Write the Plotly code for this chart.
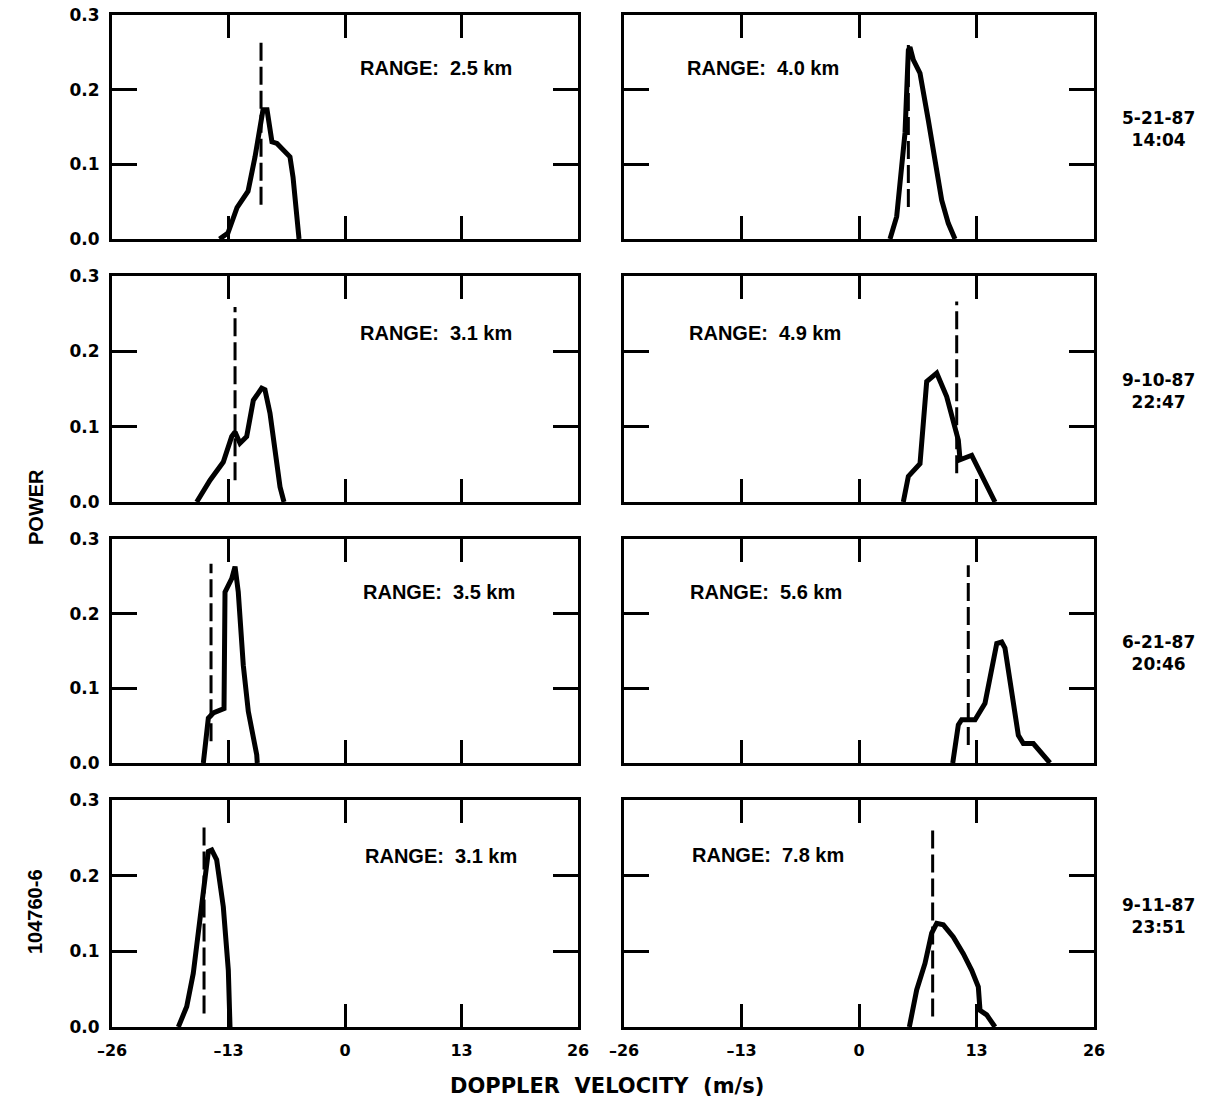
import plotly.graph_objects as go

# ---------------- data ----------------
# Row 1 (5-21-87 14:04)
p1_x = [-14.0, -13.06, -12.05, -10.82, -10.04, -9.71, -9.15, -8.70, -8.15, -7.59, -6.14, -5.80, -5.24, -5.13]
p1_y = [0.0, 0.008, 0.042, 0.064, 0.110, 0.137, 0.173, 0.173, 0.130, 0.128, 0.110, 0.083, 0.012, 0.0]
p1_mean = -9.37
p1_dash = [0.046, 0.266]
p1_range = "RANGE:  2.5 km"

p2_x = [3.43, 4.17, 4.72, 5.09, 5.46, 5.64, 6.01, 6.75, 7.67, 8.60, 9.15, 9.88, 10.62]
p2_y = [0.0, 0.030, 0.097, 0.142, 0.253, 0.257, 0.240, 0.222, 0.159, 0.096, 0.052, 0.021, 0.0]
p2_mean = 5.46
p2_dash = [0.043, 0.266]
p2_range = "RANGE:  4.0 km"

# Row 2 (9-10-87 22:47)
p3_x = [-16.55, -15.06, -13.58, -12.64, -12.27, -11.72, -10.97, -10.23, -9.30, -8.93, -8.37, -7.25, -6.81]
p3_y = [0.0, 0.029, 0.053, 0.087, 0.093, 0.078, 0.087, 0.135, 0.151, 0.149, 0.118, 0.020, 0.0]
p3_mean = -12.27
p3_dash = [0.029, 0.259]
p3_range = "RANGE:  3.1 km"

p4_x = [4.90, 5.46, 6.75, 7.49, 8.60, 9.70, 10.99, 11.18, 12.47, 13.39, 15.05]
p4_y = [0.0, 0.034, 0.051, 0.160, 0.171, 0.140, 0.082, 0.056, 0.062, 0.040, 0.0]
p4_mean = 10.81
p4_dash = [0.038, 0.266]
p4_range = "RANGE:  4.9 km"

# Row 3 (6-21-87 20:46)
p5_x = [-15.81, -15.51, -15.25, -14.70, -13.50, -13.39, -12.64, -12.27, -11.91, -11.35, -10.79, -9.85, -9.79]
p5_y = [0.0, 0.033, 0.060, 0.067, 0.073, 0.229, 0.247, 0.263, 0.229, 0.131, 0.069, 0.011, 0.0]
p5_mean = -14.95
p5_dash = [0.029, 0.267]
p5_range = "RANGE:  3.5 km"

p6_x = [10.37, 10.99, 11.36, 12.84, 13.94, 15.24, 15.79, 16.15, 17.63, 18.18, 19.29, 20.94, 21.13]
p6_y = [0.0, 0.051, 0.058, 0.058, 0.080, 0.160, 0.162, 0.154, 0.037, 0.026, 0.026, 0.004, 0.0]
p6_mean = 12.09
p6_dash = [0.024, 0.265]
p6_range = "RANGE:  5.6 km"

# Row 4 (9-11-87 23:51)
p7_x = [-18.60, -17.66, -16.93, -16.18, -15.51, -15.25, -14.87, -14.32, -13.58, -13.02, -12.83]
p7_y = [0.0, 0.027, 0.071, 0.146, 0.203, 0.232, 0.234, 0.221, 0.159, 0.075, 0.0]
p7_mean = -15.73
p7_dash = [0.018, 0.265]
p7_range = "RANGE:  3.1 km"

p8_x = [5.57, 6.38, 7.30, 8.04, 8.60, 9.33, 10.43, 11.54, 12.47, 13.20, 13.39, 14.13, 15.05]
p8_y = [0.0, 0.049, 0.084, 0.124, 0.137, 0.135, 0.119, 0.097, 0.075, 0.053, 0.022, 0.016, 0.0]
p8_mean = 8.15
p8_dash = [0.014, 0.265]
p8_range = "RANGE:  7.8 km"

dates = ["5-21-87<br>14:04", "9-10-87<br>22:47", "6-21-87<br>20:46", "9-11-87<br>23:51"]

x_tickvals = [-26, -13, 0, 13, 26]
x_ticktext = ["\u201326", "\u201313", "0", "13", "26"]
y_tickvals = [0.0, 0.1, 0.2, 0.3]
y_ticktext = ["0.0", "0.1", "0.2", "0.3"]

panels = [
    (p1_x, p1_y, p1_mean, p1_dash, p1_range),
    (p2_x, p2_y, p2_mean, p2_dash, p2_range),
    (p3_x, p3_y, p3_mean, p3_dash, p3_range),
    (p4_x, p4_y, p4_mean, p4_dash, p4_range),
    (p5_x, p5_y, p5_mean, p5_dash, p5_range),
    (p6_x, p6_y, p6_mean, p6_dash, p6_range),
    (p7_x, p7_y, p7_mean, p7_dash, p7_range),
    (p8_x, p8_y, p8_mean, p8_dash, p8_range),
]

# ---------------- layout geometry (pixels) ----------------
W, H = 1205, 1109
col_px = [(112, 578), (624, 1094)]
row_px = [(15, 239), (276, 502), (539, 763), (800, 1027)]
range_text_px = [(358, 68), (685, 68), (358, 333), (687, 333),
                 (361, 592), (688, 592), (363, 856), (690, 855)]

FONT = "Liberation Sans, Arial, Helvetica, sans-serif"
WIDE = "DejaVu Sans, Verdana, sans-serif"

fig = go.Figure()
layout = dict(
    width=W, height=H,
    margin=dict(l=0, r=0, t=0, b=0, pad=0, autoexpand=False),
    paper_bgcolor="white", plot_bgcolor="white",
    showlegend=False,
    font=dict(family=FONT, color="black"),
    annotations=[],
)

for i, (px, py, mean, dash, rtxt) in enumerate(panels):
    r, c = divmod(i, 2)
    n = i + 1
    xa = "x" if n == 1 else f"x{n}"
    ya = "y" if n == 1 else f"y{n}"
    fig.add_trace(go.Scatter(x=[mean, mean], y=dash, mode="lines",
                             line=dict(color="black", width=3, dash="18px,6px"),
                             xaxis=xa, yaxis=ya, hoverinfo="skip"))
    fig.add_trace(go.Scatter(x=px, y=py, mode="lines",
                             line=dict(color="black", width=5),
                             xaxis=xa, yaxis=ya))
    x0, x1 = col_px[c]
    y0, y1 = row_px[r]
    bottom = (r == 3)
    layout["xaxis" if n == 1 else f"xaxis{n}"] = dict(
        domain=[x0 / W, x1 / W], anchor=ya, range=[-26, 26], automargin=False,
        showline=True, linecolor="black", linewidth=3, mirror="ticks",
        ticks="inside", ticklen=23, tickwidth=3, tickcolor="black",
        tickvals=x_tickvals, ticktext=x_ticktext,
        showticklabels=bottom, ticklabelstandoff=7,
        tickfont=dict(family=WIDE, size=16, color="black", weight="bold"),
        showgrid=False, zeroline=False, fixedrange=True,
    )
    layout["yaxis" if n == 1 else f"yaxis{n}"] = dict(
        domain=[1 - y1 / H, 1 - y0 / H], anchor=xa, range=[0, 0.3], automargin=False,
        showline=True, linecolor="black", linewidth=3, mirror="ticks",
        ticks="inside", ticklen=25, tickwidth=3, tickcolor="black",
        tickvals=y_tickvals, ticktext=y_ticktext,
        showticklabels=(c == 0), ticklabelstandoff=6,
        tickfont=dict(family=WIDE, size=17, color="black", weight="bold"),
        showgrid=False, zeroline=False, fixedrange=True,
    )
    tx, ty = range_text_px[i]
    layout["annotations"].append(dict(
        text=rtxt, x=tx / W, y=1 - ty / H, xref="paper", yref="paper",
        xanchor="left", yanchor="middle", showarrow=False,
        font=dict(family=FONT, size=20, color="black", weight="bold")))

for r, d in enumerate(dates):
    y0, y1 = row_px[r]
    layout["annotations"].append(dict(
        text=d, x=1158 / W, y=1 - ((y0 + y1) / 2 + 2) / H, xref="paper", yref="paper",
        xanchor="center", yanchor="middle", showarrow=False,
        font=dict(family=WIDE, size=17, color="black", weight="bold")))

layout["annotations"].append(dict(
    text="<b>POWER</b>", x=36 / W, y=1 - 507 / H, xref="paper", yref="paper",
    textangle=-90, xanchor="center", yanchor="middle", showarrow=False,
    font=dict(family=FONT, size=20, color="black", weight="bold")))
layout["annotations"].append(dict(
    text="104760-6", x=35 / W, y=1 - 912 / H, xref="paper", yref="paper",
    textangle=-90, xanchor="center", yanchor="middle", showarrow=False,
    font=dict(family=FONT, size=20, color="black", weight="bold")))
layout["annotations"].append(dict(
    text="DOPPLER  VELOCITY  (m/s)", x=607 / W, y=1 - 1086 / H, xref="paper", yref="paper",
    xanchor="center", yanchor="middle", showarrow=False,
    font=dict(family=WIDE, size=21, color="black", weight="bold")))

fig.update_layout(**layout)
fig.write_html("out.html")
